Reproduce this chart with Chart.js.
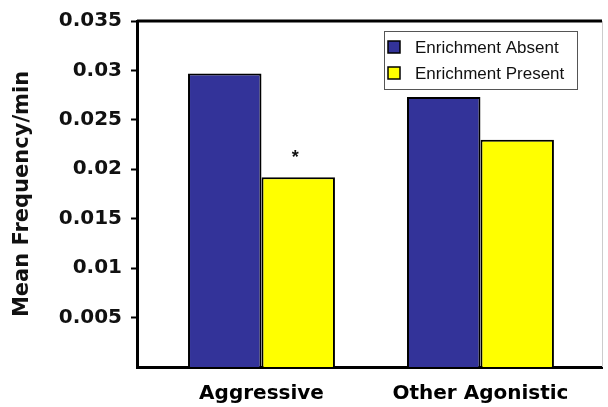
<!DOCTYPE html>
<html>
<head>
<meta charset="utf-8">
<script src="https://cdn.jsdelivr.net/npm/chart.js@4.4.1/dist/chart.umd.min.js"></script>
<style>
  html, body { margin: 0; padding: 0; background: #fff; }
  #wrap { width: 608px; height: 407px; }
</style>
</head>
<body>
<div id="wrap"><canvas id="chart"></canvas></div>
<script>
// Data
const categories = ["Aggressive", "Other Agonistic"];
const enrichmentAbsent = [0.0297, 0.0273];
const enrichmentPresent = [0.0192, 0.0230];
const presentSignificant = [true, false]; // asterisk over bar
const yTicks = [0.005, 0.01, 0.015, 0.02, 0.025, 0.03, 0.035];

const toPoints = (vals) => vals.map((v, i) => ({ x: i + 1, y: v }));

// Frame (top + right border), asterisk and legend box
const framePlugin = {
  id: 'frame',
  afterDraw(chart) {
    const { ctx, chartArea } = chart;
    ctx.save();
    ctx.strokeStyle = '#000';
    ctx.lineWidth = 3;
    ctx.beginPath();
    ctx.moveTo(chartArea.left, chartArea.top);
    ctx.lineTo(chartArea.right, chartArea.top);
    ctx.stroke();
    ctx.strokeStyle = '#ccc';
    ctx.lineWidth = 1;
    ctx.beginPath();
    ctx.moveTo(chartArea.right + 0.5, chartArea.top);
    ctx.lineTo(chartArea.right + 0.5, chartArea.bottom);
    ctx.stroke();

    // asterisks
    const meta = chart.getDatasetMeta(1);
    ctx.fillStyle = '#111';
    ctx.font = 'bold 18px "Liberation Sans"';
    ctx.textAlign = 'center';
    ctx.textBaseline = 'middle';
    presentSignificant.forEach((sig, i) => {
      if (!sig) return;
      const bar = meta.data[i];
      ctx.fillText('*', bar.x - 3, bar.y - 19);
    });

    // legend
    const w = 193, h = 58;
    const x = chartArea.right - 25 - w;
    const y = chartArea.top + 10;
    ctx.fillStyle = '#fff';
    ctx.fillRect(x, y, w, h);
    ctx.strokeStyle = '#555';
    ctx.lineWidth = 1;
    ctx.strokeRect(x + 0.5, y + 0.5, w, h);
    ctx.textAlign = 'left';
    ctx.font = '17px "Liberation Sans"';
    chart.data.datasets.forEach((ds, i) => {
      const cy = y + 16 + i * 26;
      ctx.fillStyle = ds.backgroundColor;
      ctx.fillRect(x + 4, cy - 6, 12, 12);
      ctx.strokeStyle = '#000';
      ctx.lineWidth = 1.5;
      ctx.strokeRect(x + 4, cy - 6, 12, 12);
      ctx.fillStyle = '#111';
      ctx.fillText(ds.label, x + 31, cy + 1);
    });
    ctx.restore();
  }
};

new Chart(document.getElementById('chart'), {
  type: 'bar',
  data: {
    datasets: [
      {
        label: 'Enrichment Absent',
        data: toPoints(enrichmentAbsent),
        backgroundColor: '#333399',
        borderColor: '#000',
        borderWidth: 2
      },
      {
        label: 'Enrichment Present',
        data: toPoints(enrichmentPresent),
        backgroundColor: '#ffff00',
        borderColor: '#000',
        borderWidth: 2
      }
    ]
  },
  options: {
    responsive: true,
    maintainAspectRatio: false,
    animation: false,
    categoryPercentage: 0.671,
    barPercentage: 1,
    layout: { padding: { left: 0, top: 20, right: 6, bottom: 0 } },
    plugins: {
      legend: { display: false },
      tooltip: { enabled: false }
    },
    scales: {
      x: {
        type: 'linear',
        offset: false,
        min: 0.4315,
        max: 2.555,
        afterBuildTicks: (axis) => { axis.ticks = categories.map((c, i) => ({ value: i + 1 })); },
        afterFit: (axis) => { axis.height = 40; },
        grid: { offset: false, drawOnChartArea: false, drawTicks: false },
        border: { color: '#000', width: 3 },
        ticks: {
          padding: 15,
          color: '#000',
          font: { family: 'DejaVu Sans', weight: 'bold', size: 20 },
          callback: (v) => categories[v - 1]
        }
      },
      y: {
        min: 0,
        max: 0.035,
        afterBuildTicks: (axis) => { axis.ticks = yTicks.map(v => ({ value: v })); },
        afterFit: (axis) => { axis.width = 137; },
        grid: { drawOnChartArea: false, drawTicks: true, tickLength: 6, tickWidth: 2, tickColor: '#000' },
        border: { color: '#000', width: 3 },
        ticks: {
          padding: 9,
          color: '#111',
          font: { family: 'DejaVu Sans', weight: 'bold', size: 20 },
          callback: (v) => String(Number(v.toFixed(3)))
        },
        title: {
          display: true,
          text: 'Mean Frequency/min',
          color: '#111',
          font: { family: 'DejaVu Sans', weight: 'bold', size: 21 },
          padding: { top: 10, bottom: 0 }
        }
      }
    }
  },
  plugins: [framePlugin]
});
</script>
</body>
</html>
